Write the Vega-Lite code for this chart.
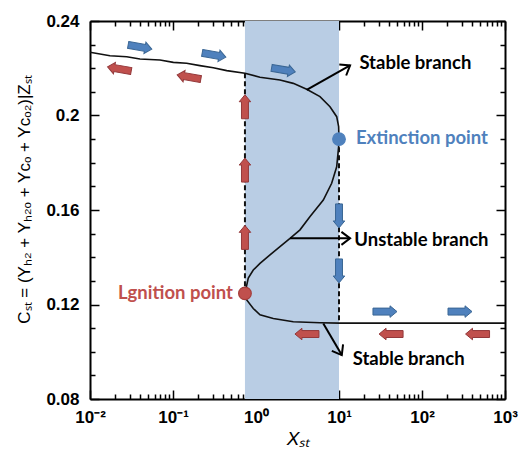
{
  "$schema": "https://vega.github.io/schema/vega-lite/v6.json",
  "width": 415,
  "height": 378,
  "autosize": "none",
  "padding": {"left": 90, "top": 21, "right": 17, "bottom": 53},
  "config": {
    "view": {"stroke": null},
    "axis": {
      "domainColor": "black", "domainWidth": 2, "tickColor": "black", "tickWidth": 1.5,
      "labelFont": "Liberation Sans", "labelFontWeight": "bold", "labelFontSize": 17, "labelColor": "black",
      "titleFont": "Liberation Sans", "titleFontWeight": "normal", "titleColor": "black",
      "grid": false, "labelFlush": false, "labelOverlap": false
    }
  },
  "datasets": {
    "shade": [{"x0": 0.736, "x1": 10, "c0": 0.08, "c1": 0.24}],
    "curve": [
      {"i": 1, "x": 0.01, "c": 0.2268}, {"i": 2, "x": 0.0174, "c": 0.2253}, {"i": 3, "x": 0.0277, "c": 0.2249},
      {"i": 4, "x": 0.04, "c": 0.2239}, {"i": 5, "x": 0.0697, "c": 0.2235}, {"i": 6, "x": 0.101, "c": 0.2225},
      {"i": 7, "x": 0.146, "c": 0.2221}, {"i": 8, "x": 0.211, "c": 0.2211}, {"i": 9, "x": 0.306, "c": 0.2202},
      {"i": 10, "x": 0.444, "c": 0.219}, {"i": 11, "x": 0.736, "c": 0.2179}, {"i": 12, "x": 1.117, "c": 0.2162},
      {"i": 13, "x": 1.945, "c": 0.215}, {"i": 14, "x": 2.81, "c": 0.2136}, {"i": 15, "x": 4.08, "c": 0.2111},
      {"i": 16, "x": 5.9, "c": 0.208}, {"i": 17, "x": 7.79, "c": 0.2037}, {"i": 18, "x": 9.38, "c": 0.1995},
      {"i": 19, "x": 9.9, "c": 0.1953}, {"i": 20, "x": 10, "c": 0.19}, {"i": 21, "x": 9.9, "c": 0.1868},
      {"i": 22, "x": 9.38, "c": 0.1783}, {"i": 23, "x": 8.16, "c": 0.1713}, {"i": 24, "x": 6.47, "c": 0.1642},
      {"i": 25, "x": 4.48, "c": 0.1572}, {"i": 26, "x": 3.39, "c": 0.1516}, {"i": 27, "x": 2.57, "c": 0.148},
      {"i": 28, "x": 1.945, "c": 0.1445}, {"i": 29, "x": 1.475, "c": 0.141}, {"i": 30, "x": 1.117, "c": 0.1374},
      {"i": 31, "x": 0.927, "c": 0.1346}, {"i": 32, "x": 0.807, "c": 0.1312}, {"i": 33, "x": 0.736, "c": 0.1247},
      {"i": 34, "x": 0.773, "c": 0.1219}, {"i": 35, "x": 0.927, "c": 0.1183}, {"i": 36, "x": 1.117, "c": 0.1156},
      {"i": 37, "x": 1.615, "c": 0.1141}, {"i": 38, "x": 2.81, "c": 0.1127}, {"i": 39, "x": 5.9, "c": 0.1123},
      {"i": 40, "x": 10, "c": 0.1121}, {"i": 41, "x": 1000, "c": 0.1121}
    ],
    "dashed": [
      {"seg": "ignition", "x": 0.736, "c": 0.2179}, {"seg": "ignition", "x": 0.736, "c": 0.1247},
      {"seg": "extinction", "x": 10, "c": 0.19}, {"seg": "extinction", "x": 10, "c": 0.1121}
    ],
    "arrows": [
      {"x": 0.04, "c": 0.229, "dir": "right upper"}, {"x": 0.312, "c": 0.2256, "dir": "right upper"},
      {"x": 2.14, "c": 0.2193, "dir": "right upper"},
      {"x": 0.0226, "c": 0.2197, "dir": "left upper"}, {"x": 0.156, "c": 0.2163, "dir": "left upper"},
      {"x": 0.736, "c": 0.2037, "dir": "up"}, {"x": 0.736, "c": 0.1769, "dir": "up"}, {"x": 0.736, "c": 0.1484, "dir": "up"},
      {"x": 10, "c": 0.1575, "dir": "down"}, {"x": 10, "c": 0.1342, "dir": "down"},
      {"x": 35.8, "c": 0.117, "dir": "right"}, {"x": 287, "c": 0.117, "dir": "right"},
      {"x": 4.11, "c": 0.1075, "dir": "left"}, {"x": 42.4, "c": 0.1075, "dir": "left"}, {"x": 467, "c": 0.1075, "dir": "left"}
    ],
    "points": [
      {"x": 10, "c": 0.19, "kind": "extinction"}, {"x": 0.736, "c": 0.1247, "kind": "ignition"}
    ],
    "labels": [
      {"x": 17.6, "c": 0.2222, "text": "Stable branch", "kind": "branch"},
      {"x": 16.0, "c": 0.1906, "text": "Extinction point", "kind": "extinction"},
      {"x": 15.3, "c": 0.1473, "text": "Unstable branch", "kind": "branch"},
      {"x": 14.6, "c": 0.0968, "text": "Stable branch", "kind": "branch"}
    ],
    "ignlabel": [{"x": 0.528, "c": 0.1247, "text": "Lgnition point"}],
    "pointers": [
      {"name": "upper", "x": 4.08, "c": 0.2108, "x2": 13.6, "c2": 0.2212},
      {"name": "unstable", "x": 2.57, "c": 0.148, "x2": 13.6, "c2": 0.148},
      {"name": "lower", "x": 6.47, "c": 0.112, "x2": 10.8, "c2": 0.0986}
    ]
  },
  "resolve": {"axis": {"x": "independent", "y": "independent"}},
  "layer": [
    {
      "data": {"name": "shade"},
      "mark": {"type": "rect", "color": "#b9cde4"},
      "encoding": {
        "x": {"field": "x0", "type": "quantitative",
          "scale": {"type": "log", "domain": [0.01, 1000]},
          "axis": {"orient": "bottom", "title": "Xₛₜ", "titleFontStyle": "italic", "titleFontSize": 19, "titlePadding": 4,
            "values": [0.01,0.02,0.03,0.04,0.05,0.06,0.07,0.08,0.09,0.1,0.2,0.3,0.4,0.5,0.6,0.7,0.8,0.9,1,2,3,4,5,6,7,8,9,10,20,30,40,50,60,70,80,90,100,200,300,400,500,600,700,800,900,1000],
            "tickSize": -9,
            "tickDash": {"condition": {"test": "abs(log(datum.value)/LN10 - round(log(datum.value)/LN10)) < 0.001", "value": [20, 1]}, "value": [5, 20]},
            "labelPadding": 19,
            "labelExpr": "abs(log(datum.value)/LN10 - round(log(datum.value)/LN10)) < 0.001 ? ['10⁻²','10⁻¹','10⁰','10¹','10²','10³'][round(log(datum.value)/LN10)+2] : ''"}},
        "x2": {"field": "x1"},
        "y": {"field": "c0", "type": "quantitative",
          "scale": {"domain": [0.08, 0.24], "zero": false, "nice": false},
          "axis": {"orient": "left", "title": "Cₛₜ = (Yₕ₂ + Yₕ₂ₒ + Yᴄₒ + Yᴄₒ₂)|Zₛₜ", "titleFontSize": 17, "titlePadding": 12, "titleY": 178,
            "values": [0.08,0.09,0.1,0.11,0.12,0.13,0.14,0.15,0.16,0.17,0.18,0.19,0.2,0.21,0.22,0.23,0.24],
            "tickSize": -9,
            "tickDash": {"condition": {"test": "abs(datum.value*25 - round(datum.value*25)) < 0.001", "value": [20, 1]}, "value": [5, 20]},
            "labelPadding": 20,
            "labelExpr": "abs(datum.value*25 - round(datum.value*25)) < 0.001 ? format(datum.value, '~g') : ''"}},
        "y2": {"field": "c1"}
      }
    },
    {
      "data": {"name": "curve"},
      "mark": {"type": "line", "color": "#111111", "strokeWidth": 1.6},
      "encoding": {
        "x": {"field": "x", "type": "quantitative",
          "axis": {"orient": "top", "title": null, "labels": false,
            "values": [0.01,0.02,0.03,0.04,0.05,0.06,0.07,0.08,0.09,0.1,0.2,0.3,0.4,0.5,0.6,0.7,0.8,0.9,1,2,3,4,5,6,7,8,9,10,20,30,40,50,60,70,80,90,100,200,300,400,500,600,700,800,900,1000],
            "tickSize": -9,
            "tickDash": {"condition": {"test": "abs(log(datum.value)/LN10 - round(log(datum.value)/LN10)) < 0.001", "value": [20, 1]}, "value": [5, 20]}}},
        "y": {"field": "c", "type": "quantitative",
          "axis": {"orient": "right", "title": null, "labels": false,
            "values": [0.08,0.09,0.1,0.11,0.12,0.13,0.14,0.15,0.16,0.17,0.18,0.19,0.2,0.21,0.22,0.23,0.24],
            "tickSize": -9,
            "tickDash": {"condition": {"test": "abs(datum.value*25 - round(datum.value*25)) < 0.001", "value": [20, 1]}, "value": [5, 20]}}},
        "order": {"field": "i", "type": "quantitative"}
      }
    },
    {
      "data": {"name": "dashed"},
      "mark": {"type": "line", "color": "#111111", "strokeWidth": 2, "strokeDash": [5, 3]},
      "encoding": {
        "x": {"field": "x", "type": "quantitative", "axis": null},
        "y": {"field": "c", "type": "quantitative", "axis": null},
        "detail": {"field": "seg"}
      }
    },
    {
      "data": {"name": "pointers"},
      "mark": {"type": "rule", "color": "black", "strokeWidth": 2},
      "encoding": {
        "x": {"field": "x", "type": "quantitative", "axis": null},
        "y": {"field": "c", "type": "quantitative", "axis": null},
        "x2": {"field": "x2"},
        "y2": {"field": "c2"}
      }
    },
    {
      "data": {"name": "pointers"},
      "transform": [{"filter": "datum.name === 'upper'"}],
      "mark": {"type": "point", "shape": "M-1,-0.75L0,0L-1,0.75", "filled": false, "stroke": "black", "strokeWidth": 2, "size": 300, "angle": 328, "opacity": 1},
      "encoding": {"x": {"field": "x2", "type": "quantitative", "axis": null}, "y": {"field": "c2", "type": "quantitative", "axis": null}}
    },
    {
      "data": {"name": "pointers"},
      "transform": [{"filter": "datum.name === 'unstable'"}],
      "mark": {"type": "point", "shape": "M-1,-0.75L0,0L-1,0.75", "filled": false, "stroke": "black", "strokeWidth": 2, "size": 300, "angle": 0, "opacity": 1},
      "encoding": {"x": {"field": "x2", "type": "quantitative", "axis": null}, "y": {"field": "c2", "type": "quantitative", "axis": null}}
    },
    {
      "data": {"name": "pointers"},
      "transform": [{"filter": "datum.name === 'lower'"}],
      "mark": {"type": "point", "shape": "M-1,-0.75L0,0L-1,0.75", "filled": false, "stroke": "black", "strokeWidth": 2, "size": 300, "angle": 60, "opacity": 1},
      "encoding": {"x": {"field": "x2", "type": "quantitative", "axis": null}, "y": {"field": "c2", "type": "quantitative", "axis": null}}
    },
    {
      "data": {"name": "arrows"},
      "transform": [{"filter": "datum.dir === 'right upper'"}],
      "mark": {"type": "point", "shape": "M-1,-0.29L0.42,-0.29L0.42,-0.48L1,0L0.42,0.48L0.42,0.29L-1,0.29Z", "filled": true, "fill": "#4f81bd", "stroke": "#3a6694", "strokeWidth": 1, "size": 576, "angle": 10, "opacity": 1},
      "encoding": {"x": {"field": "x", "type": "quantitative", "axis": null}, "y": {"field": "c", "type": "quantitative", "axis": null}}
    },
    {
      "data": {"name": "arrows"},
      "transform": [{"filter": "datum.dir === 'left upper'"}],
      "mark": {"type": "point", "shape": "M-1,-0.29L0.42,-0.29L0.42,-0.48L1,0L0.42,0.48L0.42,0.29L-1,0.29Z", "filled": true, "fill": "#c0504d", "stroke": "#93383a", "strokeWidth": 1, "size": 576, "angle": 190, "opacity": 1},
      "encoding": {"x": {"field": "x", "type": "quantitative", "axis": null}, "y": {"field": "c", "type": "quantitative", "axis": null}}
    },
    {
      "data": {"name": "arrows"},
      "transform": [{"filter": "datum.dir === 'right'"}],
      "mark": {"type": "point", "shape": "M-1,-0.29L0.42,-0.29L0.42,-0.48L1,0L0.42,0.48L0.42,0.29L-1,0.29Z", "filled": true, "fill": "#4f81bd", "stroke": "#3a6694", "strokeWidth": 1, "size": 576, "angle": 0, "opacity": 1},
      "encoding": {"x": {"field": "x", "type": "quantitative", "axis": null}, "y": {"field": "c", "type": "quantitative", "axis": null}}
    },
    {
      "data": {"name": "arrows"},
      "transform": [{"filter": "datum.dir === 'left'"}],
      "mark": {"type": "point", "shape": "M-1,-0.29L0.42,-0.29L0.42,-0.48L1,0L0.42,0.48L0.42,0.29L-1,0.29Z", "filled": true, "fill": "#c0504d", "stroke": "#93383a", "strokeWidth": 1, "size": 576, "angle": 180, "opacity": 1},
      "encoding": {"x": {"field": "x", "type": "quantitative", "axis": null}, "y": {"field": "c", "type": "quantitative", "axis": null}}
    },
    {
      "data": {"name": "arrows"},
      "transform": [{"filter": "datum.dir === 'up'"}],
      "mark": {"type": "point", "shape": "M-1,-0.29L0.42,-0.29L0.42,-0.48L1,0L0.42,0.48L0.42,0.29L-1,0.29Z", "filled": true, "fill": "#c0504d", "stroke": "#93383a", "strokeWidth": 1, "size": 576, "angle": 270, "opacity": 1},
      "encoding": {"x": {"field": "x", "type": "quantitative", "axis": null}, "y": {"field": "c", "type": "quantitative", "axis": null}}
    },
    {
      "data": {"name": "arrows"},
      "transform": [{"filter": "datum.dir === 'down'"}],
      "mark": {"type": "point", "shape": "M-1,-0.29L0.42,-0.29L0.42,-0.48L1,0L0.42,0.48L0.42,0.29L-1,0.29Z", "filled": true, "fill": "#4f81bd", "stroke": "#3a6694", "strokeWidth": 1, "size": 576, "angle": 90, "opacity": 1},
      "encoding": {"x": {"field": "x", "type": "quantitative", "axis": null}, "y": {"field": "c", "type": "quantitative", "axis": null}}
    },
    {
      "data": {"name": "points"},
      "mark": {"type": "circle", "size": 160, "opacity": 1, "strokeWidth": 1.2},
      "encoding": {
        "x": {"field": "x", "type": "quantitative", "axis": null},
        "y": {"field": "c", "type": "quantitative", "axis": null},
        "fill": {"field": "kind", "type": "nominal", "legend": null, "scale": {"domain": ["extinction", "ignition"], "range": ["#4f81bd", "#c0504d"]}},
        "stroke": {"field": "kind", "type": "nominal", "legend": null, "scale": {"domain": ["extinction", "ignition"], "range": ["#4f81bd", "#a33c3a"]}}
      }
    },
    {
      "data": {"name": "labels"},
      "mark": {"type": "text", "align": "left", "baseline": "middle", "font": "Lato", "fontWeight": "bold", "fontSize": 18.5},
      "encoding": {
        "x": {"field": "x", "type": "quantitative", "axis": null},
        "y": {"field": "c", "type": "quantitative", "axis": null},
        "text": {"field": "text"},
        "color": {"field": "kind", "type": "nominal", "legend": null, "scale": {"domain": ["branch", "extinction"], "range": ["#000000", "#4f81bd"]}}
      }
    },
    {
      "data": {"name": "ignlabel"},
      "mark": {"type": "text", "align": "right", "baseline": "middle", "font": "Lato", "fontWeight": "bold", "fontSize": 18.5, "color": "#c0504d"},
      "encoding": {
        "x": {"field": "x", "type": "quantitative", "axis": null},
        "y": {"field": "c", "type": "quantitative", "axis": null},
        "text": {"field": "text"}
      }
    }
  ]
}
